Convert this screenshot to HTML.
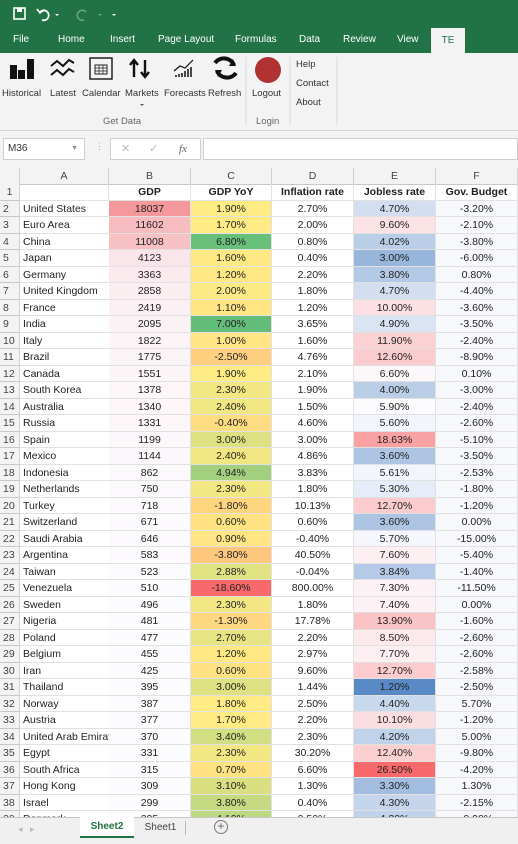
<!DOCTYPE html>
<html><head><meta charset="utf-8">
<style>
*{box-sizing:border-box;margin:0;padding:0}
body{width:518px;height:844px;overflow:hidden;font-family:"Liberation Sans",sans-serif;background:#fff;position:relative}
.abs{position:absolute}
#title{left:0;top:0;width:518px;height:28px;background:#217346}
#tabs{left:0;top:28px;width:518px;height:25px;background:#217346}
.tab{position:absolute;top:34px;color:#fff;font-size:10px}
#ribbon{left:0;top:53px;width:518px;height:78px;background:#f3f3f3;border-bottom:1px solid #d4d4d4}
.rl{position:absolute;font-size:9.5px;color:#333}
#fbar{left:0;top:131px;width:518px;height:37px;background:#f3f3f3}
#grid{left:0;top:168px;width:518px;height:649px;overflow:hidden}
.cell{position:absolute;height:16.5px;line-height:16.5px;font-size:10.5px;color:#222;white-space:nowrap;overflow:hidden;border-right:1px solid #e1e1e1;border-bottom:1px solid #e1e1e1}
.hd{background:#f3f3f3;color:#444;text-align:center;border-right:1px solid #d0d0d0;border-bottom:1px solid #c8c8c8}
#sheets{left:0;top:817px;width:518px;height:27px;background:#f0f0f0;border-top:1px solid #c6c6c6}
</style></head><body>
<div class="abs" id="title">
 <svg class="abs" style="left:12px;top:6px" width="110" height="16">
  <rect x="2" y="2" width="11" height="11" fill="none" stroke="#fff" stroke-width="1.6"/><rect x="5" y="2" width="5" height="4" fill="#fff"/>
  <path d="M28 6 a5 5 0 1 1 2 8" fill="none" stroke="#fff" stroke-width="1.8"/><path d="M25 3 l3 4 l4 -3" fill="none" stroke="#fff" stroke-width="1.6"/>
  <path d="M43 8 l2 2 l2 -2z" fill="#fff"/>
  <path d="M74 6 a5 5 0 1 0 -2 8" fill="none" stroke="#6aa583" stroke-width="1.6"/>
  <path d="M86 8 l2 2 l2 -2z" fill="#6aa583"/><path d="M100 8 l2 2 l2 -2z" fill="#fff"/>
 </svg>
</div>
<div class="abs" id="tabs"></div>
<div class="tab" style="left:13px">File</div>
<div class="tab" style="left:58px">Home</div>
<div class="tab" style="left:110px">Insert</div>
<div class="tab" style="left:158px">Page Layout</div>
<div class="tab" style="left:235px">Formulas</div>
<div class="tab" style="left:299px">Data</div>
<div class="tab" style="left:343px">Review</div>
<div class="tab" style="left:397px">View</div>
<div class="abs" style="left:431px;top:28px;width:34px;height:26px;background:#f3f3f3;color:#217346;font-size:10px;text-align:center;line-height:26px">TE</div>
<div class="abs" id="ribbon">
 <svg class="abs" style="left:0;top:0" width="340" height="78">
  <rect x="10" y="12" width="7" height="14" fill="#111"/><rect x="18" y="17" width="7" height="9" fill="#111"/><rect x="27" y="6" width="7" height="20" fill="#111"/>
  <path d="M51 13 l6 -5 l6 5 l6 -6 l5 3" fill="none" stroke="#111" stroke-width="2"/><path d="M51 22 l6 -5 l6 5 l6 -6 l5 3" fill="none" stroke="#111" stroke-width="2"/>
  <rect x="90" y="5" width="22" height="21" fill="none" stroke="#222" stroke-width="1.5"/><rect x="95" y="12" width="12" height="9" fill="none" stroke="#222"/><path d="M95 15h12M95 18h12M99 12v9M103 12v9" stroke="#222" stroke-width=".7"/>
  <path d="M134 24 V8 M130 12 l4 -5 l4 5 M145 7 V23 M141 19 l4 5 l4 -5" stroke="#111" stroke-width="2.4" fill="none"/>
  <path d="M174 18 l6 -5 l5 2 l8 -8" stroke="#111" stroke-width="1.2" fill="none"/><path d="M176 24v-2M179 24v-3M182 24v-4M185 24v-6M188 24v-8M191 24v-10" stroke="#111" stroke-width="1.5"/>
  <path d="M215 10 a11 11 0 0 1 19 2 M236 20 a11 11 0 0 1 -19 -2" stroke="#111" stroke-width="4" fill="none"/><path d="M233 6 l3 7 l-7 0z M218 24 l-3 -7 l7 0z" fill="#111"/>
  <circle cx="268" cy="17" r="13" fill="#b03232"/>
  <line x1="246" y1="4" x2="246" y2="72" stroke="#d8d8d8"/><line x1="290" y1="4" x2="290" y2="72" stroke="#d8d8d8"/><line x1="337" y1="4" x2="337" y2="72" stroke="#d8d8d8"/>
  <path d="M140 51 l2 2 l2 -2z" fill="#555"/>
 </svg>
 <div class="rl" style="left:2px;top:35px">Historical</div>
 <div class="rl" style="left:50px;top:35px">Latest</div>
 <div class="rl" style="left:82px;top:35px">Calendar</div>
 <div class="rl" style="left:125px;top:35px">Markets</div>
 <div class="rl" style="left:164px;top:35px">Forecasts</div>
 <div class="rl" style="left:208px;top:35px">Refresh</div>
 <div class="rl" style="left:252px;top:35px">Logout</div>
 <div class="rl" style="left:296px;top:6px">Help</div>
 <div class="rl" style="left:296px;top:25px">Contact</div>
 <div class="rl" style="left:296px;top:44px">About</div>
 <div class="rl" style="left:103px;top:63px;color:#666">Get Data</div>
 <div class="rl" style="left:256px;top:63px;color:#666">Login</div>
</div>
<div class="abs" id="fbar">
 <div class="abs" style="left:3px;top:7px;width:82px;height:22px;background:#fff;border:1px solid #d0d0d0;font-size:10px;line-height:20px;padding-left:4px;color:#333">M36<span style="position:absolute;right:6px;font-size:7px;color:#888">▼</span></div>
 <div class="abs" style="left:95px;top:10px;font-size:9px;color:#aaa">⋮</div>
 <div class="abs" style="left:110px;top:7px;width:91px;height:22px;background:#fff;border:1px solid #d0d0d0;font-size:11px;color:#bbb;line-height:20px"><span style="position:absolute;left:10px">✕</span><span style="position:absolute;left:38px">✓</span><span style="position:absolute;left:68px;color:#666;font-style:italic;font-family:'Liberation Serif',serif">fx</span></div>
 <div class="abs" style="left:203px;top:7px;width:315px;height:22px;background:#fff;border:1px solid #d0d0d0"></div>
</div>
<div class="abs" id="grid"></div>
<div class="abs" id="sheets">
 <div class="abs" style="left:18px;top:6px;font-size:9px;color:#bbb">◂ &nbsp; ▸</div>
 <div class="abs" style="left:80px;top:-1px;width:54px;height:21px;background:#fff;color:#217346;font-weight:bold;font-size:10px;text-align:center;line-height:19px;border-bottom:2px solid #217346">Sheet2</div>
 <div class="abs" style="left:136px;top:3px;width:50px;font-size:10px;color:#444;text-align:center;line-height:14px;border-right:1px solid #bbb">Sheet1</div>
 <div class="abs" style="left:214px;top:2px;width:14px;height:14px;border:1px solid #777;border-radius:50%;font-size:12px;line-height:11px;text-align:center;color:#666">+</div>
</div>
<script>
const countries=["United States","Euro Area","China","Japan","Germany","United Kingdom","France","India","Italy","Brazil","Canada","South Korea","Australia","Russia","Spain","Mexico","Indonesia","Netherlands","Turkey","Switzerland","Saudi Arabia","Argentina","Taiwan","Venezuela","Sweden","Nigeria","Poland","Belgium","Iran","Thailand","Norway","Austria","United Arab Emirates","Egypt","South Africa","Hong Kong","Israel","Denmark"];
const gdp=[18037,11602,11008,4123,3363,2858,2419,2095,1822,1775,1551,1378,1340,1331,1199,1144,862,750,718,671,646,583,523,510,496,481,477,455,425,395,387,377,370,331,315,309,299,295];
const gdpYoy=[1.9,1.7,6.8,1.6,1.2,2.0,1.1,7.0,1.0,-2.5,1.9,2.3,2.4,-0.4,3.0,2.4,4.94,2.3,-1.8,0.6,0.9,-3.8,2.88,-18.6,2.3,-1.3,2.7,1.2,0.6,3.0,1.8,1.7,3.4,2.3,0.7,3.1,3.8,4.1];
const inflation=["2.70%","2.00%","0.80%","0.40%","2.20%","1.80%","1.20%","3.65%","1.60%","4.76%","2.10%","1.90%","1.50%","4.60%","3.00%","4.86%","3.83%","1.80%","10.13%","0.60%","-0.40%","40.50%","-0.04%","800.00%","1.80%","17.78%","2.20%","2.97%","9.60%","1.44%","2.50%","2.20%","2.30%","30.20%","6.60%","1.30%","0.40%","0.50%"];
const jobless=[4.7,9.6,4.02,3.0,3.8,4.7,10.0,4.9,11.9,12.6,6.6,4.0,5.9,5.6,18.63,3.6,5.61,5.3,12.7,3.6,5.7,7.6,3.84,7.3,7.4,13.9,8.5,7.7,12.7,1.2,4.4,10.1,4.2,12.4,26.5,3.3,4.3,4.2];
const budget=["-3.20%","-2.10%","-3.80%","-6.00%","0.80%","-4.40%","-3.60%","-3.50%","-2.40%","-8.90%","0.10%","-3.00%","-2.40%","-2.60%","-5.10%","-3.50%","-2.53%","-1.80%","-1.20%","0.00%","-15.00%","-5.40%","-1.40%","-11.50%","0.00%","-1.60%","-2.60%","-2.60%","-2.58%","-2.50%","5.70%","-1.20%","5.00%","-9.80%","-4.20%","1.30%","-2.15%","-0.90%"];
const cols=[[0,20],[20,89],[109,82],[191,81],[272,82],[354,82],[436,82]];
const g=document.getElementById('grid');
const RH=16.5;
function mix(a,b,t){t=Math.max(0,Math.min(1,t));return 'rgb('+a.map((v,i)=>Math.round(v+(b[i]-v)*t)).join(',')+')';}
const RED=[248,105,107],GRED=[244,152,156],WHITE=[252,252,255],YEL=[255,235,132],GRN=[99,190,123],BLU=[90,138,198];
function cell(x,y,w,txt,cls,style,name){const d=document.createElement('div');d.className='cell '+(cls||'');d.style.left=x+'px';d.style.top=y+'px';d.style.width=w+'px';if(style)d.style.cssText+=style;d.textContent=txt;


g.appendChild(d);return d;}
const letters=["","A","B","C","D","E","F"];
cols.forEach((c,i)=>{cell(c[0],0,c[1],letters[i],'hd','',i?'column-header-'+letters[i].toLowerCase():'select-all-corner');});
const titles=["","GDP","GDP YoY","Inflation rate","Jobless rate","Gov. Budget"];
cell(0,16,20,"1",'hd','','row-header-1');
titles.forEach((t,i)=>cell(cols[i+1][0],16,cols[i+1][1],t,'','font-weight:bold;text-align:center','header-'+(t?t.toLowerCase().replace(/[^a-z]+/g,'-').replace(/-$/,''):'blank')));
const gmin=Math.min(...gdp),gmax=Math.max(...gdp);
const yMin=Math.min(...gdpYoy),yMax=Math.max(...gdpYoy),yMid=1.9;
const jMin=Math.min(...jobless),jMax=Math.max(...jobless),jMid=5.9;
countries.forEach((c,i)=>{
 const y=16+RH*(i+1);
 cell(0,y,20,String(i+2),'hd','text-align:left;padding-left:3px','row-header-'+(i+2));
 cell(20,y,89,c,'','padding-left:3px;border-right:none','country-'+c.toLowerCase().replace(/ /g,'-'));
 cell(109,y,82,gdp[i],'','text-align:center;background:'+mix(WHITE,GRED,(gdp[i]-gmin)/(gmax-gmin)),'gdp-cell');
 const v=gdpYoy[i];const yc=v<yMid?mix(RED,YEL,(v-yMin)/(yMid-yMin)):mix(YEL,GRN,(v-yMid)/(yMax-yMid));
 cell(191,y,81,v.toFixed(2)+'%','','text-align:center;background:'+yc,'gdp-yoy-cell');
 cell(272,y,82,inflation[i],'','text-align:center','inflation-cell');
 const j=jobless[i];const jc=j<jMid?mix(BLU,WHITE,(j-jMin)/(jMid-jMin)):mix(WHITE,RED,(j-jMid)/(jMax-jMid));
 cell(354,y,82,j.toFixed(2)+'%','','text-align:center;background:'+jc,'jobless-cell');
 cell(436,y,82,budget[i],'','text-align:center;background:#f6f8fc','budget-cell');
});
</script>
</body></html>
